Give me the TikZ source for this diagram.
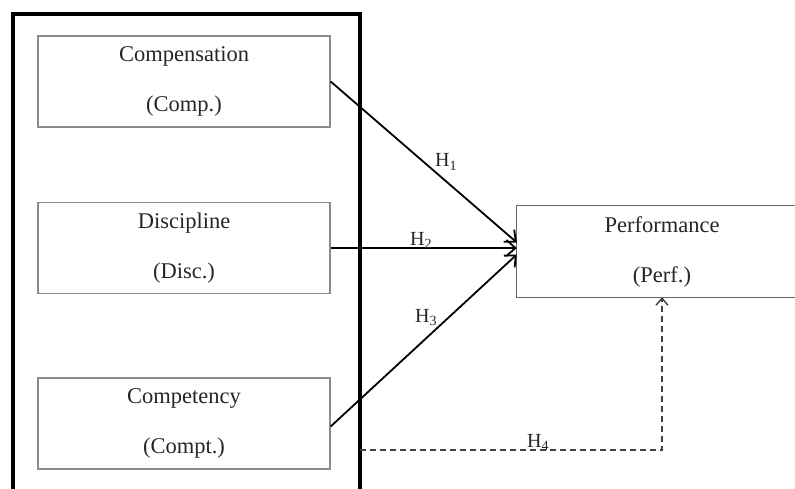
\documentclass[tikz,border=0pt]{standalone}
\usepackage{fontspec}
\setmainfont{Liberation Serif}
\usetikzlibrary{arrows.meta}
\begin{document}
\begin{tikzpicture}[x=1pt,y=-1pt,
  inbox/.style={draw=black!45,line width=1.3pt,minimum width=292pt,minimum height=91pt,inner sep=0pt,align=center,font=\fontsize{22.5}{50}\selectfont,text=black!85},
  outbox/.style={minimum width=290pt,minimum height=91pt,inner sep=0pt,align=center,font=\fontsize{22.5}{50}\selectfont,text=black!85},
  outline/.style={draw=black!60,line width=1.3pt},
  bigbox/.style={draw=black,line width=3.2pt,minimum width=347pt,minimum height=520pt,inner sep=0pt},
  arr/.style={line width=1.8pt,-{Straight Barb[length=9pt,width=16pt,line width=1.8pt]}},
  darr/.style={line width=1.4pt,black!75,dash pattern=on 6pt off 4pt,-{Straight Barb[length=7pt,width=12pt,line width=1.4pt]}},
  hlab/.style={anchor=base west,inner sep=0pt,font=\fontsize{20}{24}\selectfont,text=black!85}]
\useasboundingbox (0,0) rectangle (795,489);
\clip (0,0) rectangle (795,489);
\fill[white] (0,0) rectangle (795,489);
\node[bigbox] (outer) at (186.5,274) {};
\node[inbox] (comp) at (184,81.5) {Compensation\\(Comp.)};
\node[inbox] (disc) at (184,248) {Discipline\\(Disc.)};
\node[inbox] (compt) at (184,423.5) {Competency\\(Compt.)};
\node[outbox] (perf) at (662,251.5) {Performance\\(Perf.)};
\draw[outline] ([xshift=60pt]perf.north east) -- (perf.north west) -- (perf.south west) -- ([xshift=60pt]perf.south east);
\coordinate (h4s) at (360,450);
\draw[arr] (comp.east) -- ([yshift=9pt]perf.west);
\draw[arr] (disc.east) -- (perf.west |- disc.east);
\draw[arr] ([yshift=-3pt]compt.east) -- ([yshift=-3pt]perf.west);
\draw[darr] (h4s) -| (perf.south);
\node[hlab] (l1) at (435,167) {H\textsubscript{1}};
\node[hlab] (l2) at (410,245) {H\textsubscript{2}};
\node[hlab] (l3) at (415,322) {H\textsubscript{3}};
\node[hlab] (l4) at (527,447) {H\textsubscript{4}};
\end{tikzpicture}
\end{document}
